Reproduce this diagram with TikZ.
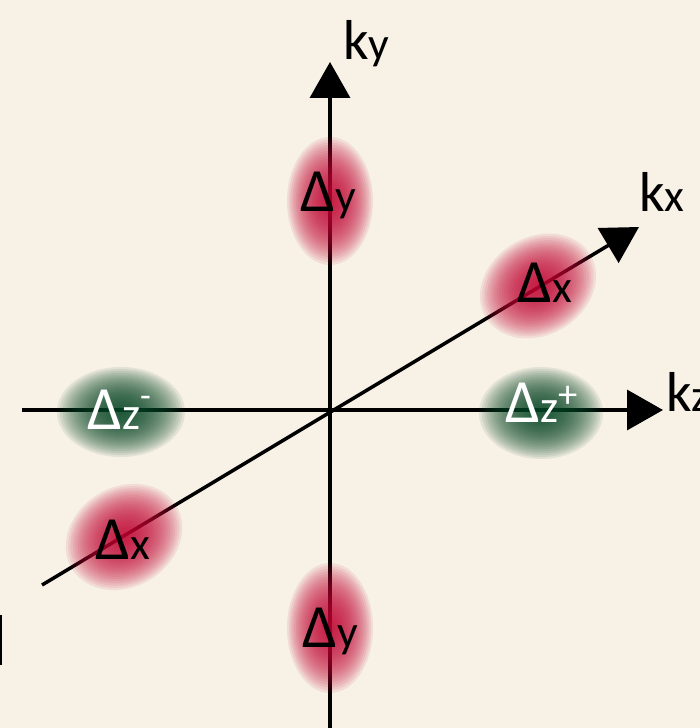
\documentclass[tikz,border=0pt]{standalone}
\usepackage{fontspec}
\setmainfont{Carlito}
\usepackage{xcolor}
\usepackage{tikz}
\usetikzlibrary{positioning, arrows.meta}
\definecolor{paper}{HTML}{F7F1E6}
\definecolor{blobRed}{HTML}{C40A36}
\definecolor{blobGreen}{HTML}{0A4A2A}
\newcommand{\ksub}[1]{{\fontsize{26}{26}\selectfont #1}}

\begin{document}
\begin{tikzpicture}[x=0.02cm, y=0.02cm,
  axis/.style={line width=2pt, -{Triangle[length=0.72cm, width=0.8cm]}},
  dlbl/.style={anchor=base west, inner sep=0pt, font=\fontsize{35}{35}\selectfont},
  klbl/.style={anchor=base west, inner sep=0pt, font=\fontsize{32}{32}\selectfont}]
  \fill[paper] (0,0) rectangle (700,728);
  \useasboundingbox (0,0) rectangle (700,728);
  % axes
  \coordinate (O) at (330,318);
  \coordinate (yBot) at (330,0);
  \coordinate (yTop) at (330,666);
  \coordinate (zLeft) at (22,318);
  \coordinate (zRight) at (663,318);
  \coordinate (xLow) at (42,143);
  \coordinate (xHigh) at (639,501);
  \draw[axis] (yBot) -- (yTop);
  \draw[axis] (zLeft) -- (zRight);
  \draw[axis] (xLow) -- (xHigh);
  \fill[black] (0,63) rectangle (2,113);
  % blobs: stacked ellipses fading out
  \foreach \cx/\cy/\ang/\rx/\ry/\col in {330/527/0/43/64/blobRed, 330/100/0/43/65/blobRed,
      538/442/31/61/49/blobRed, 124/191/31/61/50/blobRed,
      121/316/0/64/45/blobGreen, 541/315/0/62/46/blobGreen}{
    \begin{scope}[shift={(\cx,\cy)}, rotate=\ang]
      \foreach \k in {0,...,23}
        \fill[\col, fill opacity=0.085] (0,0) ellipse ({\rx*(1-\k/24)} and {\ry*(1-\k/24)});
    \end{scope}
  }
  % labels
  \node[dlbl] (dyTop) at (300,516) {Δ\ksub{y}};
  \node[dlbl] (dyBot) at (302,80) {Δ\ksub{y}};
  \node[dlbl] (dxRight) at (517,425) {Δ\ksub{x}};
  \node[dlbl] (dxLeft) at (95,168) {Δ\ksub{x}};
  \node[dlbl, text=white] (dzMinus) at (87,298) {Δ\ksub{z}\raisebox{13pt}{\fontsize{20}{20}\selectfont -}};
  \node[dlbl, text=white] (dzPlus) at (505,305) {Δ\ksub{z}\raisebox{9pt}{\fontsize{22}{22}\selectfont +}};
  \node[klbl] (ky) at (343,668) {k\ksub{y}};
  \node[klbl] (kx) at (639,516) {k\ksub{x}};
  \node[klbl] (kz) at (666,316) {k\ksub{z}};
\end{tikzpicture}
\end{document}
